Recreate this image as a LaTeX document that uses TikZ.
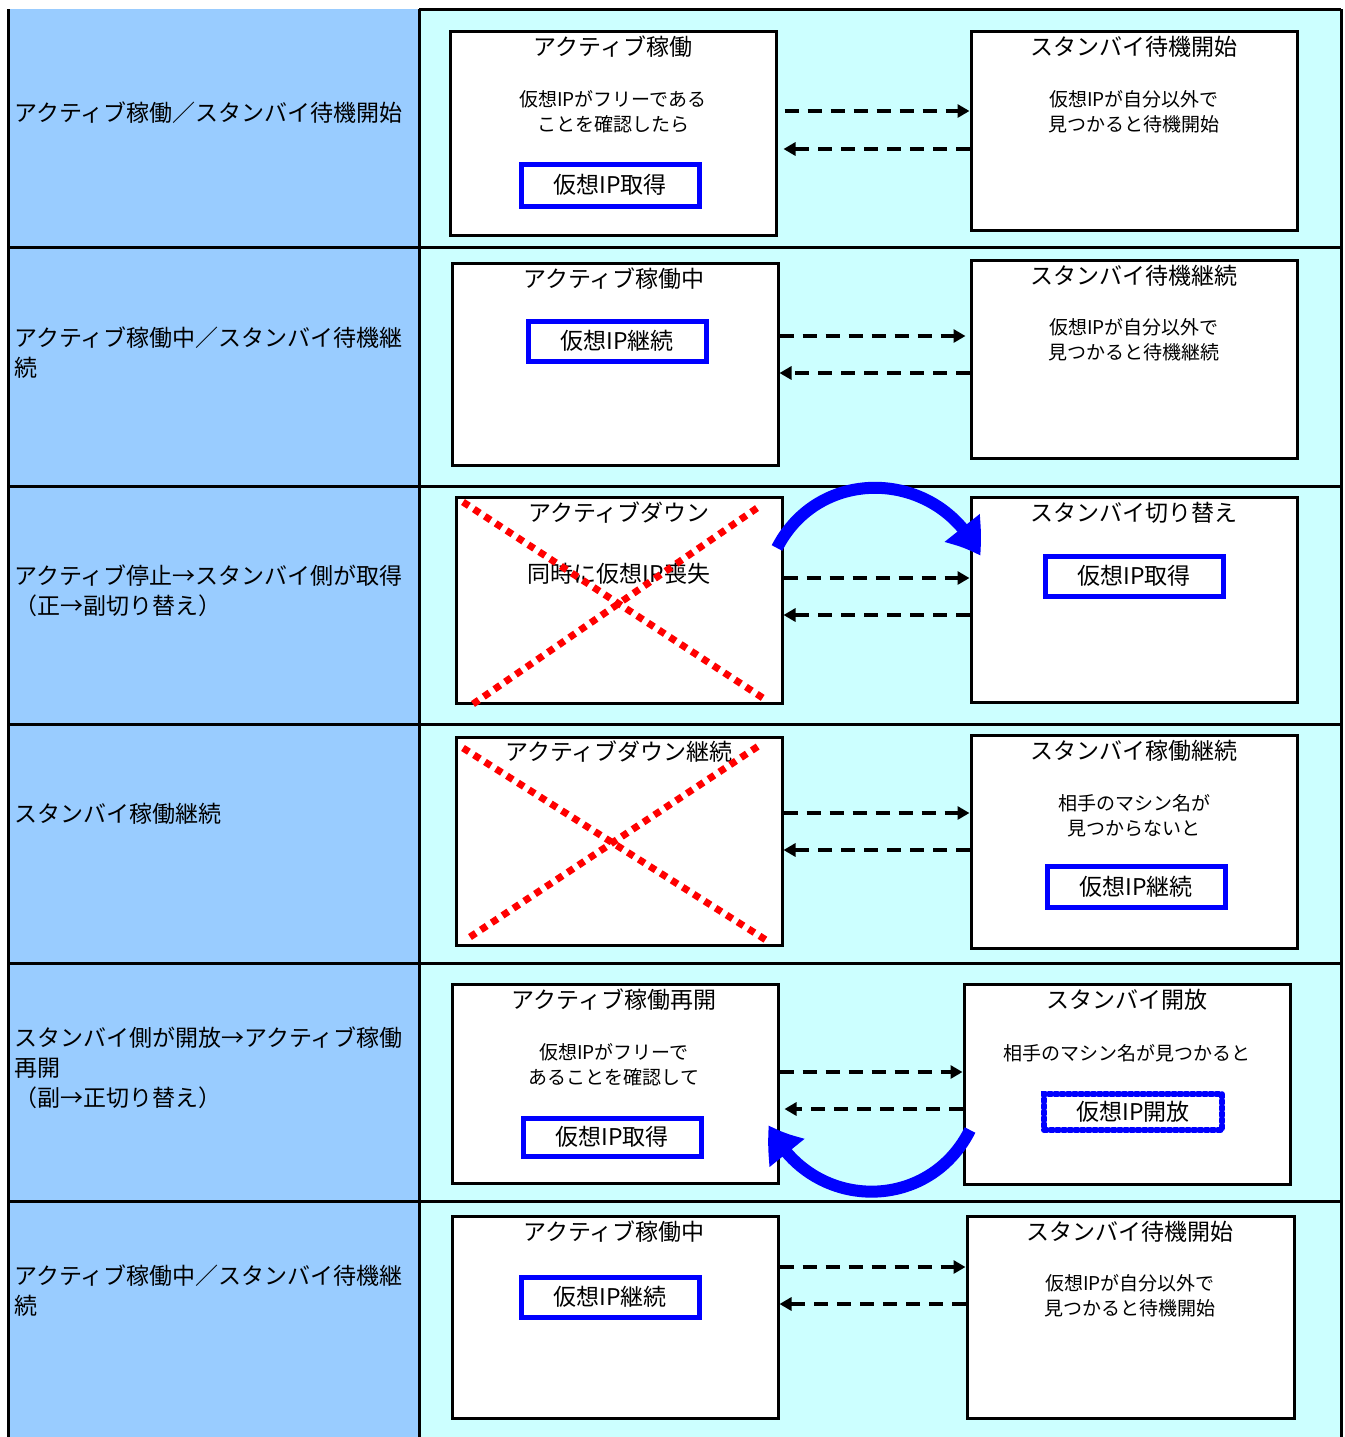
\documentclass[tikz,border=0pt]{standalone}
\usepackage{fontspec}
\newfontfamily\jp{Noto Sans CJK JP}
\usetikzlibrary{arrows.meta,bending,fit}
\definecolor{leftblue}{HTML}{99CCFF}
\definecolor{rightcyan}{HTML}{CCFFFF}
\definecolor{vblue}{HTML}{0000FF}
\definecolor{xred}{HTML}{FF0000}
\begin{document}
\begin{tikzpicture}[x=0.5pt,y=-0.5pt,
  grid/.style={draw=black,line width=1.5pt},
  box/.style={draw=black,line width=1.5pt,fill=white,rectangle,inner sep=0pt},
  ttl/.style={font=\jp\fontsize{11.5}{14}\selectfont,inner sep=0pt},
  body/.style={font=\jp\fontsize{9.5}{12.5}\selectfont,inner sep=0pt,align=center},
  lbl/.style={font=\jp\fontsize{11.5}{15}\selectfont,inner sep=0pt,anchor=west,align=left},
  ipbox/.style={draw=vblue,line width=2.5pt,fill=white,rectangle,inner sep=0pt,
     minimum width=89pt,font=\jp\fontsize{11.5}{14}\selectfont},
  ipdot/.style={draw=vblue,line width=3pt,fill=white,rectangle,inner sep=0pt,
     minimum width=89pt,font=\jp\fontsize{11.5}{14}\selectfont,
     dash pattern=on 1.5pt off 1.6pt,line cap=round},
  darr/.style={draw=black,line width=2pt,dash pattern=on 7pt off 4.5pt,
     -{Triangle[length=6pt,width=6.5pt]}},
  xcross/.style={draw=xred,line width=3.5pt,dash pattern=on 3.5pt off 3pt},
  bigarc/.style={draw=vblue,line width=6pt,-{Triangle[length=17pt,width=21pt,bend]}}
]
\useasboundingbox (0,0) rectangle (1345,1437);
% backgrounds
\fill[leftblue] (8,9) rectangle (419,1437);
\fill[rightcyan] (419,9) rectangle (1341,1437);
% grid
\draw[grid] (8,9) -- (8,1437);
\draw[grid] (419,9) -- (419,1437);
\draw[grid] (1341,9) -- (1341,1437);
\draw[grid] (419,9) -- (1341,9);
\foreach \yy in {247,486,724,963,1201}{\draw[grid] (8,\yy) -- (1341,\yy);}

% row labels
\node[lbl] (L1) at (14,113) {アクティブ稼働／スタンバイ待機開始};
\node[lbl] (L2) at (14,353) {アクティブ稼働中／スタンバイ待機継\\続};
\node[lbl] (L3) at (14,591) {アクティブ停止→スタンバイ側が取得\\（正→副切り替え）};
\node[lbl] (L4) at (14,814) {スタンバイ稼働継続};
\node[lbl] (L5) at (14,1068) {スタンバイ側が開放→アクティブ稼働\\再開\\（副→正切り替え）};
\node[lbl] (L6) at (14,1291) {アクティブ稼働中／スタンバイ待機継\\続};

% ---------- row 1
\node[box,fit={(450,31) (776,235)}] (A1) {};
\node[box,fit={(971,31) (1297,230)}] (S1) {};
\node[ttl] (A1t) at (613,47) {アクティブ稼働};
\node[body] (A1b) at (613,112) {仮想IPがフリーである\\ことを確認したら};
\node[ipbox,minimum height=21pt] (A1ip) at (610,185) {仮想IP取得};
\node[ttl] (S1t) at (1134,47) {スタンバイ待機開始};
\node[body] (S1b) at (1134,112) {仮想IPが自分以外で\\見つかると待機開始};
\coordinate (y1a) at (0,111);
\coordinate (y1b) at (0,149);
\draw[darr,shorten <=3.5pt] (A1.east |- y1a) -- (S1.west |- y1a);
\draw[darr,shorten >=3pt] (S1.west |- y1b) -- (A1.east |- y1b);

% ---------- row 2
\node[box,fit={(452,263) (778,465)}] (A2) {};
\node[box,fit={(971,260) (1297,458)}] (S2) {};
\node[ttl] (A2t) at (614,279) {アクティブ稼働中};
\node[ipbox,minimum height=20pt] (A2ip) at (617,341) {仮想IP継続};
\node[ttl] (S2t) at (1134,276) {スタンバイ待機継続};
\node[body] (S2b) at (1134,340) {仮想IPが自分以外で\\見つかると待機継続};
\coordinate (y2a) at (0,336);
\coordinate (y2b) at (0,373);
\draw[darr,shorten >=2pt] (A2.east |- y2a) -- (S2.west |- y2a);
\draw[darr] (S2.west |- y2b) -- (A2.east |- y2b);

% ---------- row 3
\node[box,fit={(456,497) (782,703)}] (A3) {};
\node[box,fit={(971,497) (1297,702)}] (S3) {};
\node[ttl] (A3t) at (619,513) {アクティブダウン};
\node[ttl] (A3b) at (619,574) {同時に仮想IP喪失};
\node[ttl] (S3t) at (1134,513) {スタンバイ切り替え};
\node[ipbox,minimum height=20pt] (S3ip) at (1134,576) {仮想IP取得};
\draw[xcross] (463,502) -- (766,700);
\draw[xcross] (473,704) -- (760,506);
\coordinate (y3a) at (0,578);
\coordinate (y3b) at (0,615);
\draw[darr] (A3.east |- y3a) -- (S3.west |- y3a);
\draw[darr] (S3.west |- y3b) -- (A3.east |- y3b);
\coordinate (c3s) at (777,548);
\coordinate (c3e) at (980,556);
\draw[bigarc] (c3s) .. controls (820,464) and (940,469) .. (c3e);

% ---------- row 4
\node[box,fit={(456,737) (782,945)}] (A4) {};
\node[box,fit={(971,735) (1297,948)}] (S4) {};
\node[ttl] (A4t) at (619,752) {アクティブダウン継続};
\node[ttl] (S4t) at (1134,751) {スタンバイ稼働継続};
\node[body] (S4b) at (1134,816) {相手のマシン名が\\見つからないと};
\node[ipbox,minimum height=20.5pt] (S4ip) at (1136,886.5) {仮想IP継続};
\draw[xcross] (463,748) -- (766,940);
\draw[xcross] (470,937) -- (760,745);
\coordinate (y4a) at (0,813);
\coordinate (y4b) at (0,850);
\draw[darr] (A4.east |- y4a) -- (S4.west |- y4a);
\draw[darr] (S4.west |- y4b) -- (A4.east |- y4b);

% ---------- row 5
\node[box,fit={(452,984) (778,1183)}] (A5) {};
\node[box,fit={(964,984) (1290,1184)}] (S5) {};
\node[ttl] (A5t) at (614,1000) {アクティブ稼働再開};
\node[body] (A5b) at (614,1065) {仮想IPがフリーで\\あることを確認して};
\node[ipbox,minimum height=19pt] (A5ip) at (612,1137) {仮想IP取得};
\node[ttl] (S5t) at (1127,1000) {スタンバイ開放};
\node[body] (S5b) at (1127,1053) {相手のマシン名が見つかると};
\node[ipdot,minimum height=18pt] (S5ip) at (1133,1112) {仮想IP開放};
\coordinate (y5a) at (0,1072);
\coordinate (y5b) at (0,1109);
\draw[darr] (A5.east |- y5a) -- (S5.west |- y5a);
\draw[darr,shorten >=2.5pt] (S5.west |- y5b) -- (A5.east |- y5b);
\coordinate (c5s) at (970,1130);
\coordinate (c5e) at (769,1125);
\draw[bigarc] (c5s) .. controls (928,1214) and (810,1212) .. (c5e);

% ---------- row 6
\node[box,fit={(452,1216) (778,1418)}] (A6) {};
\node[box,fit={(967,1216) (1294,1418)}] (S6) {};
\node[ttl] (A6t) at (614,1232) {アクティブ稼働中};
\node[ipbox,minimum height=20pt] (A6ip) at (610,1297) {仮想IP継続};
\node[ttl] (S6t) at (1130,1232) {スタンバイ待機開始};
\node[body] (S6b) at (1130,1296) {仮想IPが自分以外で\\見つかると待機開始};
\coordinate (y6a) at (0,1267);
\coordinate (y6b) at (0,1304);
\draw[darr] (A6.east |- y6a) -- (S6.west |- y6a);
\draw[darr] (S6.west |- y6b) -- (A6.east |- y6b);
\end{tikzpicture}
\end{document}
